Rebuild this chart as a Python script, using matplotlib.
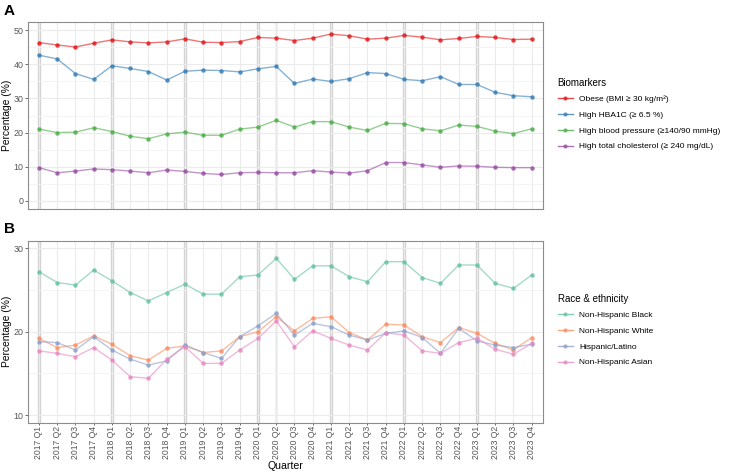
import matplotlib
matplotlib.use("Agg")
import matplotlib.pyplot as plt
import numpy as np

plt.rcParams['font.family'] = ['Liberation Sans', 'DejaVu Sans']

# quarters 2017 Q1 .. 2023 Q4
quarters = [f"{y} Q{q}" for y in range(2017, 2024) for q in range(1, 5)]

# Panel A: biomarkers
obese = [46.4, 45.7, 45.1, 46.2, 47.2, 46.6, 46.3, 46.6, 47.5, 46.5, 46.4, 46.7,
         47.9, 47.7, 47.0, 47.7, 48.9, 48.4, 47.4, 47.7, 48.5, 48.0, 47.2, 47.6,
         48.2, 47.9, 47.3, 47.4]
hba1c = [42.7, 41.6, 37.3, 35.6, 39.6, 38.8, 37.9, 35.4, 38.0, 38.3, 38.2, 37.8,
         38.7, 39.4, 34.4, 35.7, 35.0, 35.8, 37.6, 37.3, 35.6, 35.2, 36.4, 34.1,
         34.1, 31.8, 30.8, 30.5]
high_bp = [21.0, 20.0, 20.1, 21.4, 20.3, 18.9, 18.2, 19.6, 20.1, 19.2, 19.2, 21.0,
           21.6, 23.6, 21.6, 23.2, 23.2, 21.6, 20.6, 22.7, 22.6, 21.1, 20.5, 22.2,
           21.8, 20.4, 19.7, 21.1]
high_chol = [9.7, 8.2, 8.7, 9.3, 9.1, 8.7, 8.2, 9.0, 8.6, 8.0, 7.7, 8.2,
             8.3, 8.2, 8.2, 8.8, 8.4, 8.1, 8.8, 11.2, 11.2, 10.5, 9.8, 10.2,
             10.1, 9.8, 9.7, 9.7]
bio_labels = ["Obese (BMI ≥ 30 kg/m²)", "High HBA1C (≥ 6.5 %)",
              "High blood pressure (≥140/90 mmHg)", "High total cholesterol (≥ 240 mg/dL)"]
bio_colors = ["#E41A1C", "#377EB8", "#4DAF4A", "#984EA3"]

# Panel B: race & ethnicity
nh_black = [27.2, 25.9, 25.6, 27.4, 26.1, 24.7, 23.7, 24.7, 25.7, 24.5, 24.5, 26.6,
            26.8, 28.8, 26.3, 27.9, 27.9, 26.6, 26.0, 28.4, 28.4, 26.5, 25.8, 28.0,
            28.0, 25.8, 25.2, 26.8]
nh_white = [19.2, 18.1, 18.4, 19.5, 18.5, 17.1, 16.6, 18.0, 18.3, 17.5, 17.7, 19.4,
            20.0, 21.8, 20.1, 21.6, 21.8, 19.9, 19.0, 20.9, 20.8, 19.4, 18.7, 20.5,
            19.8, 18.6, 17.8, 19.3]
hispanic = [18.8, 18.7, 17.8, 19.4, 17.8, 16.7, 16.0, 16.5, 18.4, 17.5, 16.8, 19.4,
            20.7, 22.2, 19.6, 21.0, 20.6, 19.6, 19.0, 19.8, 20.1, 19.3, 17.4, 20.4,
            18.9, 18.4, 18.1, 18.5]
nh_asian = [17.7, 17.4, 17.0, 18.1, 16.6, 14.6, 14.4, 16.7, 18.2, 16.2, 16.2, 17.8,
            19.2, 21.3, 18.2, 20.1, 19.2, 18.4, 17.8, 19.9, 19.6, 17.7, 17.4, 18.7,
            19.2, 17.9, 17.3, 18.6]
race_labels = ["Non-Hispanic Black", "Non-Hispanic White", "Hispanic/Latino", "Non-Hispanic Asian"]
race_colors = ["#66C2A5", "#FC8D62", "#8DA0CB", "#E78AC3"]

x = np.arange(len(quarters))
covid_idx = quarters.index("2020 Q2")

fig = plt.figure(figsize=(7.3, 4.73), dpi=100)
W, H = 730, 473
axA = fig.add_axes([28 / W, 1 - 208.7 / H, (542.7 - 28) / W, (208.7 - 22.3) / H])
axB = fig.add_axes([28 / W, 1 - 422.7 / H, (542.7 - 28) / W, (422.7 - 240.7) / H])


def style(ax, ylim, major, minor):
    ax.set_xlim(-0.6, len(quarters) - 0.4)
    ax.set_ylim(*ylim)
    ax.set_xticks(x)
    ax.set_yticks(major)
    ax.set_yticks(minor, minor=True)
    ax.grid(True, which='major', color='#ebebeb', linewidth=0.8, zorder=0)
    ax.grid(True, which='minor', axis='y', color='#f3f3f3', linewidth=0.6, zorder=0)
    for i in range(0, len(quarters), 4):
        ax.axvline(i, color='#d3d3d3', linewidth=2.4, zorder=1)
    ax.axvline(covid_idx, color='#ffff55', linewidth=1.8, zorder=1)
    for s in ax.spines.values():
        s.set_color('#8c8c8c')
        s.set_linewidth(0.8)
    ax.tick_params(axis='y', labelsize=6.4, labelcolor='#555555', color='#555555',
                   length=2.0, width=0.6, pad=1.2)
    ax.tick_params(axis='y', which='minor', length=0)
    ax.set_ylabel("Percentage (%)", fontsize=7.4, labelpad=0.8)


def draw(ax, series, colors):
    for s, c in zip(series, colors):
        ax.plot(x, s, color=c, linewidth=1.0, alpha=0.6, zorder=3)
        ax.plot(x, s, linestyle='none', marker='o', markersize=3.2, color=c,
                alpha=0.85, markeredgewidth=0, zorder=4)
    handles = [plt.Line2D([], [], color=c, linewidth=1.0, marker='o', markersize=3,
                          markeredgewidth=0, alpha=0.8) for c in colors]
    return handles


hA = draw(axA, [obese, hba1c, high_bp, high_chol], bio_colors)
style(axA, (-2.35, 52.35), [0, 10, 20, 30, 40, 50], [5, 15, 25, 35, 45])
axA.tick_params(axis='x', length=0, labelbottom=False)

hB = draw(axB, [nh_black, nh_white, hispanic, nh_asian], race_colors)
style(axB, (9.08, 30.92), [10, 20, 30], [15, 25])
axB.set_xticklabels(quarters, rotation=90, fontsize=6.2, color='#555555')
axB.tick_params(axis='x', length=1.6, width=0.6, color='#555555', pad=0.8)
axB.set_xlabel("Quarter", fontsize=7.6, labelpad=0.8)

legA = fig.legend(hA, bio_labels, loc='upper left', bbox_to_anchor=(550 / W, 1 - 70 / H),
                  frameon=False, title="Biomarkers", fontsize=6, title_fontsize=7,
                  alignment='left', handlelength=1.9, handletextpad=0.7,
                  labelspacing=0.95, numpoints=1)
legB = fig.legend(hB, race_labels, loc='upper left', bbox_to_anchor=(550 / W, 1 - 286 / H),
                  frameon=False, title="Race & ethnicity", fontsize=6, title_fontsize=7,
                  alignment='left', handlelength=1.9, handletextpad=0.7,
                  labelspacing=0.95, numpoints=1)

fig.text(4 / W, 1 - 4 / H, "A", fontsize=11, fontweight='bold', va='top', ha='left')
fig.text(4 / W, 1 - 222 / H, "B", fontsize=11, fontweight='bold', va='top', ha='left')

fig.savefig("out.png", dpi=100)
